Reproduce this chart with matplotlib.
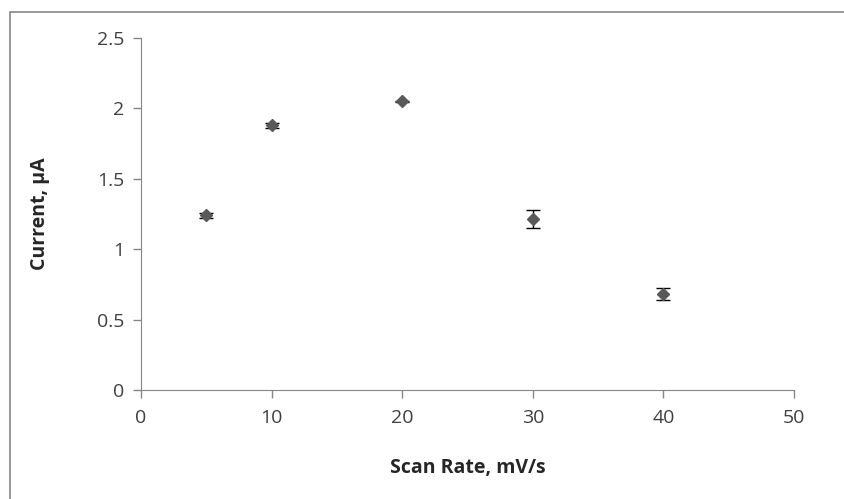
import matplotlib
matplotlib.use("Agg")
import matplotlib.pyplot as plt
from matplotlib.patches import Rectangle

scan_rate = [5, 10, 20, 30, 40]          # mV/s
current = [1.24, 1.88, 2.05, 1.215, 0.68]  # uA
err = [0.015, 0.02, 0.005, 0.066, 0.044]

plt.rcParams["font.family"] = ["Open Sans", "DejaVu Sans"]

fig = plt.figure(figsize=(8.44, 4.99), dpi=100)
ax = fig.add_axes([0.167, 0.2184, 0.7738, 0.7054])

# outer chart border (cut off at right/bottom in the original)
fig.patches.append(Rectangle((10 / 844, -0.1), 1.2, (499 - 12) / 499 + 0.1,
                             transform=fig.transFigure, fill=False,
                             edgecolor="#868686", lw=1.2))

ax.errorbar(scan_rate, current, yerr=err, fmt="D", ms=6.5, color="#595959",
            ecolor="black", elinewidth=1, capsize=5, capthick=1, zorder=3)

ax.set_xlim(0, 50); ax.set_ylim(0, 2.5)
ax.set_xticks(range(0, 51, 10))
ax.set_yticks([0, 0.5, 1, 1.5, 2, 2.5])
ax.set_yticklabels(["0", "0.5", "1", "1.5", "2", "2.5"])
for s in ["top", "right"]:
    ax.spines[s].set_visible(False)
for s in ["left", "bottom"]:
    ax.spines[s].set_color("#868686")
ax.tick_params(colors="#868686", labelcolor="#404040", labelsize=14, length=6, width=1)
ax.tick_params(axis="x", pad=8)
ax.tick_params(axis="y", pad=6)
ax.set_xlabel("Scan Rate, mV/s", fontsize=14, fontweight="bold", color="#262626", labelpad=22)
ax.set_ylabel("Current, μA", fontsize=14, fontweight="bold", color="#262626", labelpad=34)

fig.savefig("out.png", dpi=100)
